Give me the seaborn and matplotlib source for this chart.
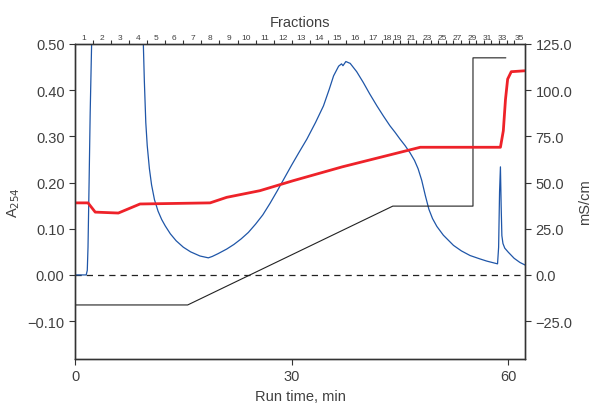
import numpy as np
import pandas as pd
import matplotlib
matplotlib.use('Agg')
import matplotlib.pyplot as plt
import seaborn as sns

# UV absorbance A254 (run time in min, absorbance); values above 0.5 are off-scale
uv_time = [0.0, 1.0, 1.55, 1.7, 1.8, 1.95, 2.1, 2.3, 2.6, 3.2, 8.6, 9.2, 9.46, 9.6, 9.8,
           10.0, 10.3, 10.6, 11.0, 11.5, 12.0, 12.5, 13.2, 14.0, 15.0, 16.0, 17.3, 18.46,
           19.0, 19.8, 21.0, 22.0, 23.0, 24.0, 25.0, 26.0, 27.0, 28.0, 29.0, 30.0, 31.0,
           32.1, 33.3, 34.4, 35.2, 35.8, 36.5, 36.9, 37.1, 37.5, 38.1, 39.0, 39.9, 40.8,
           41.8, 42.7, 43.6, 44.3, 45.0, 45.7, 46.4, 47.0, 47.5, 48.0, 48.5, 49.0, 49.5,
           50.1, 51.0, 52.4, 53.5, 54.7, 56.0, 57.0, 58.5, 58.65, 58.78, 58.9, 59.0, 59.1,
           59.25, 59.5, 60.0, 60.8, 61.6, 62.5]
uv_abs = [0.0, 0.0, 0.0, 0.01, 0.06, 0.2, 0.35, 0.5, 0.8, 1.2, 1.2, 0.8, 0.50, 0.42, 0.33,
          0.28, 0.23, 0.195, 0.163, 0.138, 0.12, 0.106, 0.089, 0.074, 0.06, 0.05, 0.041, 0.037,
          0.04, 0.046, 0.056, 0.066, 0.078, 0.092, 0.11, 0.13, 0.155, 0.182, 0.21, 0.238, 0.265,
          0.294, 0.33, 0.366, 0.402, 0.431, 0.452, 0.457, 0.453, 0.462, 0.458, 0.44, 0.417, 0.392,
          0.366, 0.344, 0.323, 0.309, 0.294, 0.28, 0.264, 0.248, 0.23, 0.205, 0.172, 0.142, 0.122,
          0.105, 0.086, 0.064, 0.052, 0.042, 0.035, 0.030, 0.024, 0.06, 0.18, 0.234, 0.15, 0.085,
          0.068, 0.058, 0.049, 0.036, 0.027, 0.020]

# Conductivity (mS/cm)
cond_time = [0.0, 1.8, 2.8, 6.0, 9.0, 18.7, 21.0, 25.6, 30.2, 37.0, 47.8, 58.9, 59.3,
             59.6, 59.9, 60.4, 62.3]
cond_ms = [39.0, 39.0, 34.0, 33.5, 38.4, 39.0, 42.0, 45.6, 51.0, 58.5, 69.1, 69.1, 78.0,
           95.0, 106.0, 110.0, 110.5]

# Gradient (% B)
grad_time = [0.0, 15.6, 44.0, 55.1, 55.1, 59.65]
grad_pct = [0.0, 0.0, 40.0, 40.0, 100.0, 100.0]

# Fractions: boundaries (min) and labels
frac_edges = [0.0, 2.5, 5.0, 7.5, 10.0, 12.5, 15.0, 17.5, 20.0, 22.5, 25.0, 27.5, 30.0,
              32.5, 35.0, 37.5, 40.0, 42.5, 44.0, 45.05, 46.1, 47.15, 48.2, 49.25, 50.3,
              51.35, 52.4, 53.45, 54.5, 55.55, 56.6, 57.65, 58.7, 59.75, 60.8, 62.3]
frac_labels = ['1', '2', '3', '4', '5', '6', '7', '8', '9', '10', '11', '12', '13', '14',
               '15', '16', '17', '18', '19', '', '21', '', '23', '', '25', '', '27', '',
               '29', '', '31', '', '33', '', '35']

uv = pd.DataFrame({'time': uv_time, 'A254': uv_abs})
cond = pd.DataFrame({'time': cond_time, 'mS': cond_ms})
grad = pd.DataFrame({'time': grad_time, 'B': grad_pct})

sns.set_style('ticks')
plt.rcParams['font.family'] = ['Liberation Sans', 'DejaVu Sans']
text_col = '#404040'
plt.rcParams['text.color'] = text_col
plt.rcParams['axes.labelcolor'] = text_col
plt.rcParams['xtick.color'] = '#333333'
plt.rcParams['ytick.color'] = '#333333'
plt.rcParams['xtick.labelcolor'] = text_col
plt.rcParams['ytick.labelcolor'] = text_col
plt.rcParams['axes.edgecolor'] = '#333333'

fig = plt.figure(figsize=(5.92, 4.06), dpi=100)
ax = fig.add_axes([0.1267, 0.1133, 0.7601, 0.7759])

xmax = 62.3
ylo, yhi = -0.182, 0.50

# hidden axis for gradient (% B) so 0% -> -0.065 and 100% -> 0.47 in A254 units
axg = ax.twinx()
axr = ax.twinx()

sns.lineplot(data=grad, x='time', y='B', ax=axg, color='#222222', lw=0.8, estimator=None, sort=False)
ax.axhline(0, color='#222222', lw=0.9, ls=(0, (5, 4)))
sns.lineplot(data=uv, x='time', y='A254', ax=ax, color='#1f56a8', lw=0.9, estimator=None, sort=False)
sns.lineplot(data=cond, x='time', y='mS', ax=axr, color='#ee2229', lw=2.0, estimator=None, sort=False)

ax.set_xlim(0, xmax)
ax.set_ylim(ylo, yhi)
ax.set_yticks([-0.1, 0.0, 0.1, 0.2, 0.3, 0.4, 0.5])
ax.set_yticklabels(['\u22120.10', '0.00', '0.10', '0.20', '0.30', '0.40', '0.50'])
ax.set_xticks([0, 30, 60])
ax.set_xlabel('Run time, min', fontsize=10.5)
ax.set_ylabel('A$_{254}$', fontsize=10.5)
ax.tick_params(labelsize=10.5, length=4, width=0.8)

axr.set_ylim(ylo * 250, yhi * 250)
axr.set_yticks([-25, 0, 25, 50, 75, 100, 125])
axr.set_yticklabels(['\u221225.0', '0.0', '25.0', '50.0', '75.0', '100.0', '125.0'])
axr.set_ylabel('mS/cm', fontsize=10.5)
axr.tick_params(labelsize=10.5, length=4, width=0.8)

scale = (0.47 + 0.065) / 100.0
axg.set_ylim((ylo + 0.065) / scale, (yhi + 0.065) / scale)
axg.set_yticks([])
axg.set_ylabel('')
axg.axis('off')

# Fractions axis on top
axt = ax.twiny()
axt.set_xlim(0, xmax)
axt.set_xticks(frac_edges[1:-1])
axt.set_xticklabels([])
centers = [(a + b) / 2 for a, b in zip(frac_edges[:-1], frac_edges[1:])]
axt.set_xticks(centers, minor=True)
axt.set_xticklabels(frac_labels, minor=True)
axt.tick_params(axis='x', which='major', length=3, width=0.8, direction='out')
axt.tick_params(axis='x', which='minor', length=0, labelsize=6, pad=2)
axt.set_xlabel('Fractions', fontsize=10.5, labelpad=6)

for a in (ax, axr, axt):
    for s in a.spines.values():
        s.set_linewidth(0.9)
        s.set_color('#333333')

fig.savefig('out.png', dpi=100)
